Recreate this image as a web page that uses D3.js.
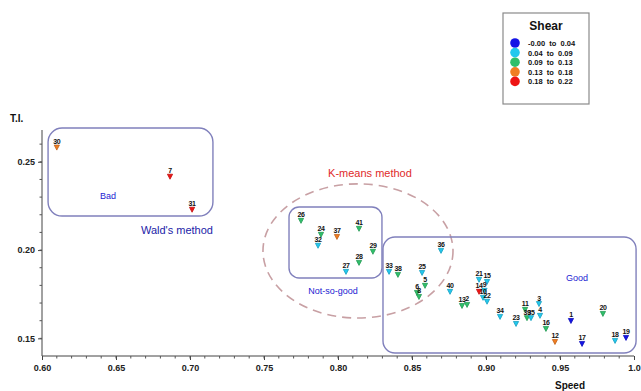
<!DOCTYPE html>
<html>
<head>
<meta charset="utf-8">
<script src="https://cdn.jsdelivr.net/npm/d3@7/dist/d3.min.js"></script>
<style>
  body { margin: 0; background: #fff; }
  svg { display: block; font-family: "Liberation Sans", Arial, sans-serif; }
</style>
</head>
<body>
<svg id="chart"></svg>
<script>
// point ids, speed, turbulence intensity and shear
var ids   = [30, 7, 31, 26, 24, 32, 37, 41, 29, 28, 27, 33, 38, 36, 25, 5, 6, 8, 40, 13, 2, 21, 15, 14, 9, 10, 22, 34, 11, 39, 35, 3, 4, 23, 16, 12, 1, 17, 20, 18, 19];
var speed = [0.610, 0.6865, 0.7014, 0.775, 0.7885, 0.7865, 0.7993, 0.8142, 0.8236, 0.8142, 0.8054, 0.8345, 0.8405, 0.8696, 0.8568, 0.8588, 0.8534, 0.8547, 0.8757, 0.8838, 0.8872, 0.8953, 0.9007, 0.8953, 0.8990, 0.8980, 0.9007, 0.9095, 0.9264, 0.9277, 0.9304, 0.9358, 0.9365, 0.9203, 0.9405, 0.9466, 0.9574, 0.9649, 0.9790, 0.9872, 0.9946];
var ti    = [0.2586, 0.2421, 0.2234, 0.2171, 0.2092, 0.2030, 0.2080, 0.2126, 0.1996, 0.1933, 0.1882, 0.1882, 0.1865, 0.2001, 0.1876, 0.1803, 0.1763, 0.1740, 0.1769, 0.1689, 0.1695, 0.1837, 0.1825, 0.1769, 0.1775, 0.1735, 0.1713, 0.1627, 0.1667, 0.1620, 0.1620, 0.1700, 0.1633, 0.1587, 0.1559, 0.1485, 0.1604, 0.1474, 0.1644, 0.1491, 0.1508];
var shear = [0.16, 0.20, 0.19, 0.10, 0.10, 0.07, 0.15, 0.10, 0.11, 0.10, 0.06, 0.08, 0.10, 0.06, 0.08, 0.11, 0.10, 0.11, 0.06, 0.10, 0.10, 0.06, 0.07, 0.19, 0.07, 0.06, 0.07, 0.08, 0.11, 0.10, 0.06, 0.07, 0.06, 0.08, 0.10, 0.15, 0.02, 0.02, 0.11, 0.06, 0.03];

// legend classes
var shearBreaks = [0.04, 0.09, 0.13, 0.18];
var shearLabels = ["-0.00  to  0.04", "0.04  to  0.09", "0.09  to  0.13", "0.13  to  0.18", "0.18  to  0.22"];
var shearColors = ["#1414e6", "#22c8ee", "#2fbf6a", "#f07d22", "#ee1414"];

// axis ticks
var xTicks = [0.60, 0.65, 0.70, 0.75, 0.80, 0.85, 0.90, 0.95, 1.00];
var xTickLabels = ["0.60", "0.65", "0.70", "0.75", "0.80", "0.85", "0.90", "0.95", "1.0"];
var yTicks = [0.15, 0.20, 0.25];
var yTickLabels = ["0.15", "0.20", "0.25"];

// grouping boxes [x0, x1, y0, y1] in data units
var boxes = [
  [0.6041, 0.7155, 0.2691, 0.2193],
  [0.7669, 0.8297, 0.2244, 0.1842],
  [0.8304, 1.0014, 0.2074, 0.1417]
];
var boxRadius = [14, 10, 12];

// annotations
var notes = [
  { text: "Bad", x: 0.6446, y: 0.2301, size: 9, color: "#2323d2" },
  { text: "Wald's method", x: 0.6912, y: 0.2108, size: 11, color: "#1c1ca8" },
  { text: "K-means method", x: 0.8216, y: 0.2431, size: 11, color: "#e02a2a" },
  { text: "Not-so-good", x: 0.7966, y: 0.1762, size: 9, color: "#2323d2" },
  { text: "Good", x: 0.9615, y: 0.1836, size: 9, color: "#2323d2" }
];

var width = 641, height = 391;

var svg = d3.select("#chart")
  .attr("width", width)
  .attr("height", height);

var x = d3.scaleLinear().domain([0.60, 1.00]).range([42, 634]);
var y = d3.scaleLinear().domain([0.14, 0.268]).range([356, 130]);

var color = d3.scaleThreshold().domain(shearBreaks).range(shearColors);

// k-means ellipse
svg.append("ellipse")
  .attr("cx", x(0.8135))
  .attr("cy", y(0.1995))
  .attr("rx", x(0.8135 + 0.0642) - x(0.8135))
  .attr("ry", y(0.1995) - y(0.1995 + 0.038))
  .attr("fill", "none")
  .attr("stroke", "#c8a0a4")
  .attr("stroke-width", 1.6)
  .attr("stroke-dasharray", "9,6");

// boxes
svg.selectAll("rect.group")
  .data(boxes)
  .enter()
  .append("rect")
  .attr("class", "group")
  .attr("x", function (d) { return x(d[0]); })
  .attr("y", function (d) { return y(d[2]); })
  .attr("width", function (d) { return x(d[1]) - x(d[0]); })
  .attr("height", function (d) { return y(d[3]) - y(d[2]); })
  .attr("rx", function (d, i) { return boxRadius[i]; })
  .attr("fill", "none")
  .attr("stroke", "#8080bc")
  .attr("stroke-width", 1.4);

// axes
var xAxis = d3.axisBottom(x)
  .tickValues(xTicks)
  .tickSize(4)
  .tickFormat(function (d, i) { return xTickLabels[i]; });
var yAxis = d3.axisLeft(y)
  .tickValues(yTicks)
  .tickSize(4)
  .tickFormat(function (d, i) { return yTickLabels[i]; });

var gx = svg.append("g").attr("transform", "translate(0," + y(0.14) + ")").call(xAxis);
var gy = svg.append("g").attr("transform", "translate(" + x(0.60) + ",0)").call(yAxis);

// minor ticks every 0.01
gx.selectAll("line.minor")
  .data(d3.range(61, 100).map(function (v) { return v / 100; }))
  .enter()
  .append("line")
  .attr("class", "minor")
  .attr("x1", function (d) { return x(d); })
  .attr("x2", function (d) { return x(d); })
  .attr("y1", 0).attr("y2", 2.5)
  .attr("stroke", "#555");
gy.selectAll("line.minor")
  .data(d3.range(15, 27).map(function (v) { return v / 100; }))
  .enter()
  .append("line")
  .attr("class", "minor")
  .attr("y1", function (d) { return y(d); })
  .attr("y2", function (d) { return y(d); })
  .attr("x1", 0).attr("x2", -2.5)
  .attr("stroke", "#555");

[gx, gy].forEach(function (g) {
  g.select(".domain").attr("stroke", "#444").attr("d", null);
  g.selectAll(".tick line").attr("stroke", "#444");
  g.selectAll("text")
    .attr("font-family", "Liberation Sans, Arial, sans-serif")
    .attr("font-size", 9)
    .attr("font-weight", "bold")
    .attr("fill", "#222");
});
gx.select(".domain").attr("d", "M" + x(0.60) + ",0H" + x(1.00));
gy.select(".domain").attr("d", "M0," + y(0.14) + "V" + y(0.268));
gx.selectAll(".tick text").attr("dy", "0.9em");

// axis titles
svg.append("text")
  .attr("x", 10).attr("y", 122)
  .attr("font-size", 10).attr("font-weight", "bold")
  .attr("fill", "#111")
  .text("T.I.");
svg.append("text")
  .attr("x", x(0.95) + 10).attr("y", 389)
  .attr("text-anchor", "middle")
  .attr("font-size", 10).attr("font-weight", "bold")
  .attr("fill", "#111")
  .text("Speed");

// annotation texts
svg.selectAll("text.note")
  .data(notes)
  .enter()
  .append("text")
  .attr("class", "note")
  .attr("x", function (d) { return x(d.x); })
  .attr("y", function (d) { return y(d.y); })
  .attr("text-anchor", "middle")
  .attr("dominant-baseline", "middle")
  .attr("font-size", function (d) { return d.size; })
  .attr("fill", function (d) { return d.color; })
  .text(function (d) { return d.text; });

// points
var points = ids.map(function (id, i) {
  return { id: id, speed: speed[i], ti: ti[i], shear: shear[i] };
});

var pts = svg.selectAll("g.pt")
  .data(points)
  .enter()
  .append("g")
  .attr("class", "pt")
  .attr("transform", function (d) {
    return "translate(" + x(d.speed) + "," + y(d.ti) + ")";
  });

pts.append("path")
  .attr("d", "M-2.6,-1.5L2.6,-1.5L0,3.5Z")
  .attr("fill", function (d) { return color(d.shear); })
  .attr("stroke", function (d) { return d3.color(color(d.shear)).darker(0.6); })
  .attr("stroke-width", 0.8);

pts.append("text")
  .attr("y", -2.5)
  .attr("text-anchor", "middle")
  .attr("font-size", 7)
  .attr("font-weight", "bold")
  .attr("letter-spacing", -0.4)
  .attr("fill", "#111")
  .text(function (d) { return d.id; });

// legend
var legend = svg.append("g").attr("transform", "translate(503,13)");
legend.append("rect")
  .attr("width", 86).attr("height", 91)
  .attr("fill", "#fff")
  .attr("stroke", "#8a8a8a")
  .attr("stroke-width", 1.2);
legend.append("text")
  .attr("x", 43).attr("y", 17)
  .attr("text-anchor", "middle")
  .attr("font-size", 12).attr("font-weight", "bold")
  .attr("fill", "#111")
  .text("Shear");

var items = legend.selectAll("g.item")
  .data(shearLabels)
  .enter()
  .append("g")
  .attr("class", "item")
  .attr("transform", function (d, i) { return "translate(0," + (30 + i * 9.6) + ")"; });
items.append("circle")
  .attr("cx", 12).attr("cy", 0).attr("r", 4.8)
  .attr("fill", function (d, i) { return shearColors[i]; });
items.append("text")
  .attr("x", 25).attr("y", 3)
  .attr("font-size", 7.5).attr("font-weight", "bold")
  .attr("fill", "#111")
  .attr("xml:space", "preserve")
  .text(function (d) { return d; });
</script>
</body>
</html>
